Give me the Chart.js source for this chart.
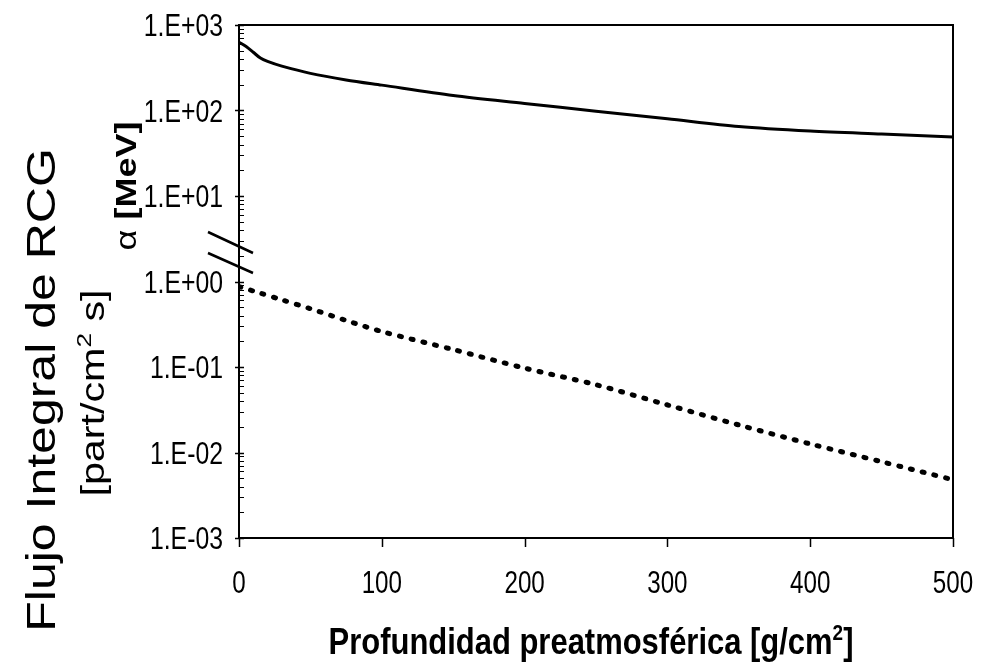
<!DOCTYPE html>
<html>
<head>
<meta charset="utf-8">
<script src="https://cdn.jsdelivr.net/npm/chart.js@4.4.0/dist/chart.umd.min.js"></script>
<style>
body { margin: 0; background: #fff; }
canvas { display: block; }
</style>
</head>
<body>
<canvas id="chart" width="982" height="669"></canvas>
<script>
// alpha (MeV) vs profundidad
const depth = [0, 5, 10, 15, 20, 30, 50, 75, 100, 150, 200, 250, 300, 350, 400, 450, 500];
const alphaMeV = [630, 560, 480, 410, 375, 330, 272, 228, 198, 150, 121, 98, 80, 65, 57.5, 53, 49];

// flujo integral RCG vs profundidad
const fluxDepth = [0, 15, 30, 50, 75, 100, 150, 200, 250, 300, 350, 400, 450, 500];
const fluxRCG = [0.87, 0.73, 0.61, 0.48, 0.35, 0.26, 0.16, 0.097, 0.062, 0.036, 0.021, 0.0126, 0.0078, 0.0048];

const xTicks = [0, 100, 200, 300, 400, 500];
const xTickLabels = ['0', '100', '200', '300', '400', '500'];
const yTicks = [1e3, 1e2, 1e1, 1e0, 1e-1, 1e-2, 1e-3];
const yTickLabels = ['1.E+03', '1.E+02', '1.E+01', '1.E+00', '1.E-01', '1.E-02', '1.E-03'];

const FONT = '"Liberation Sans", Arial, sans-serif';

function toPoints(xs, ys) {
    return xs.map((x, i) => ({ x: x, y: ys[i] }));
}

// draws a row of text pieces (with superscripts), rotated and stretched along the reading direction
function drawRich(ctx, parts, x, y, rot, stretch, align) {
    ctx.save();
    ctx.translate(x, y);
    ctx.rotate(rot);
    ctx.scale(stretch, 1);
    let total = 0;
    parts.forEach(p => {
        ctx.font = p.font;
        p.w = ctx.measureText(p.t).width;
        total += p.w;
    });
    let cx = align === 'right' ? -total : (align === 'left' ? 0 : -total / 2);
    ctx.textAlign = 'left';
    ctx.textBaseline = 'alphabetic';
    parts.forEach(p => {
        ctx.font = p.font;
        ctx.fillText(p.t, cx, -(p.raise || 0));
        cx += p.w;
    });
    ctx.restore();
}

const overlay = {
    id: 'overlay',
    afterDraw(chart) {
        const ctx = chart.ctx;
        const xs = chart.scales.x;
        const ys = chart.scales.y;
        const a = chart.chartArea;
        ctx.save();
        ctx.fillStyle = '#000';
        ctx.strokeStyle = '#000';

        // frame
        ctx.lineWidth = 2;
        ctx.strokeRect(a.left, a.top, a.right - a.left, a.bottom - a.top);

        // x ticks
        ctx.lineWidth = 1.5;
        ctx.beginPath();
        xTicks.forEach(v => {
            const px = Math.round(xs.getPixelForValue(v)) + 0.5;
            ctx.moveTo(px, a.bottom);
            ctx.lineTo(px, a.bottom + 9);
        });
        ctx.stroke();

        // y ticks: major outward, minor inward
        ctx.beginPath();
        yTicks.forEach(v => {
            const py = Math.round(ys.getPixelForValue(v)) + 0.5;
            ctx.moveTo(a.left - 4, py);
            ctx.lineTo(a.left + 5, py);
        });
        ctx.stroke();
        ctx.lineWidth = 1;
        ctx.beginPath();
        for (let d = -3; d < 3; d++) {
            for (let m = 2; m <= 9; m++) {
                const py = Math.round(ys.getPixelForValue(m * Math.pow(10, d))) + 0.5;
                ctx.moveTo(a.left, py);
                ctx.lineTo(a.left + 5, py);
            }
        }
        ctx.stroke();

        // axis break marks
        ctx.lineWidth = 2.5;
        ctx.beginPath();
        ctx.moveTo(a.left - 31, 232);
        ctx.lineTo(a.left + 14, 253);
        ctx.moveTo(a.left - 31, 253);
        ctx.lineTo(a.left + 14, 273);
        ctx.stroke();

        // tick labels
        const tickFont = '31px ' + FONT;
        xTicks.forEach((v, i) => {
            drawRich(ctx, [{ t: xTickLabels[i], font: tickFont }], xs.getPixelForValue(v), a.bottom + 55, 0, 0.78, 'center');
        });
        yTicks.forEach((v, i) => {
            drawRich(ctx, [{ t: yTickLabels[i], font: tickFont }], a.left - 16, ys.getPixelForValue(v) + 11, 0, 0.8, 'right');
        });

        // x title
        const bx = 'bold 36px ' + FONT;
        drawRich(ctx, [
            { t: 'Profundidad preatmosférica [g/cm', font: bx },
            { t: '2', font: 'bold 22px ' + FONT, raise: 14 },
            { t: ']', font: bx }
        ], 591, 654, 0, 0.86, 'center');

        // y titles
        const up = -Math.PI / 2;
        drawRich(ctx, [{ t: 'Flujo Integral de RCG', font: '40px ' + FONT }], 55, 390, up, 1.25, 'center');
        drawRich(ctx, [
            { t: '[part/cm', font: '33px ' + FONT },
            { t: '2', font: '21px ' + FONT, raise: 13 },
            { t: ' s]', font: '33px ' + FONT }
        ], 104, 393, up, 1.25, 'center');
        drawRich(ctx, [
            { t: 'α ', font: '30px ' + FONT },
            { t: '[MeV]', font: 'bold 30px ' + FONT }
        ], 136, 186, up, 1.2, 'center');

        ctx.restore();
    }
};

new Chart(document.getElementById('chart'), {
    type: 'line',
    data: {
        datasets: [
            {
                label: 'α [MeV]',
                data: toPoints(depth, alphaMeV),
                borderColor: '#000',
                borderWidth: 3,
                pointRadius: 0,
                tension: 0.3,
                fill: false
            },
            {
                label: 'Flujo Integral de RCG',
                data: toPoints(fluxDepth, fluxRCG),
                borderColor: '#000',
                borderWidth: 5,
                borderDash: [2, 10],
                borderCapStyle: 'round',
                pointRadius: 0,
                tension: 0.3,
                fill: false
            }
        ]
    },
    options: {
        responsive: false,
        animation: false,
        layout: { padding: { left: 239, right: 29, top: 25, bottom: 131 } },
        plugins: {
            legend: { display: false },
            tooltip: { enabled: false }
        },
        scales: {
            x: { type: 'linear', min: 0, max: 500, display: false },
            y: { type: 'logarithmic', min: 1e-3, max: 1e3, display: false }
        }
    },
    plugins: [overlay]
});
</script>
</body>
</html>
